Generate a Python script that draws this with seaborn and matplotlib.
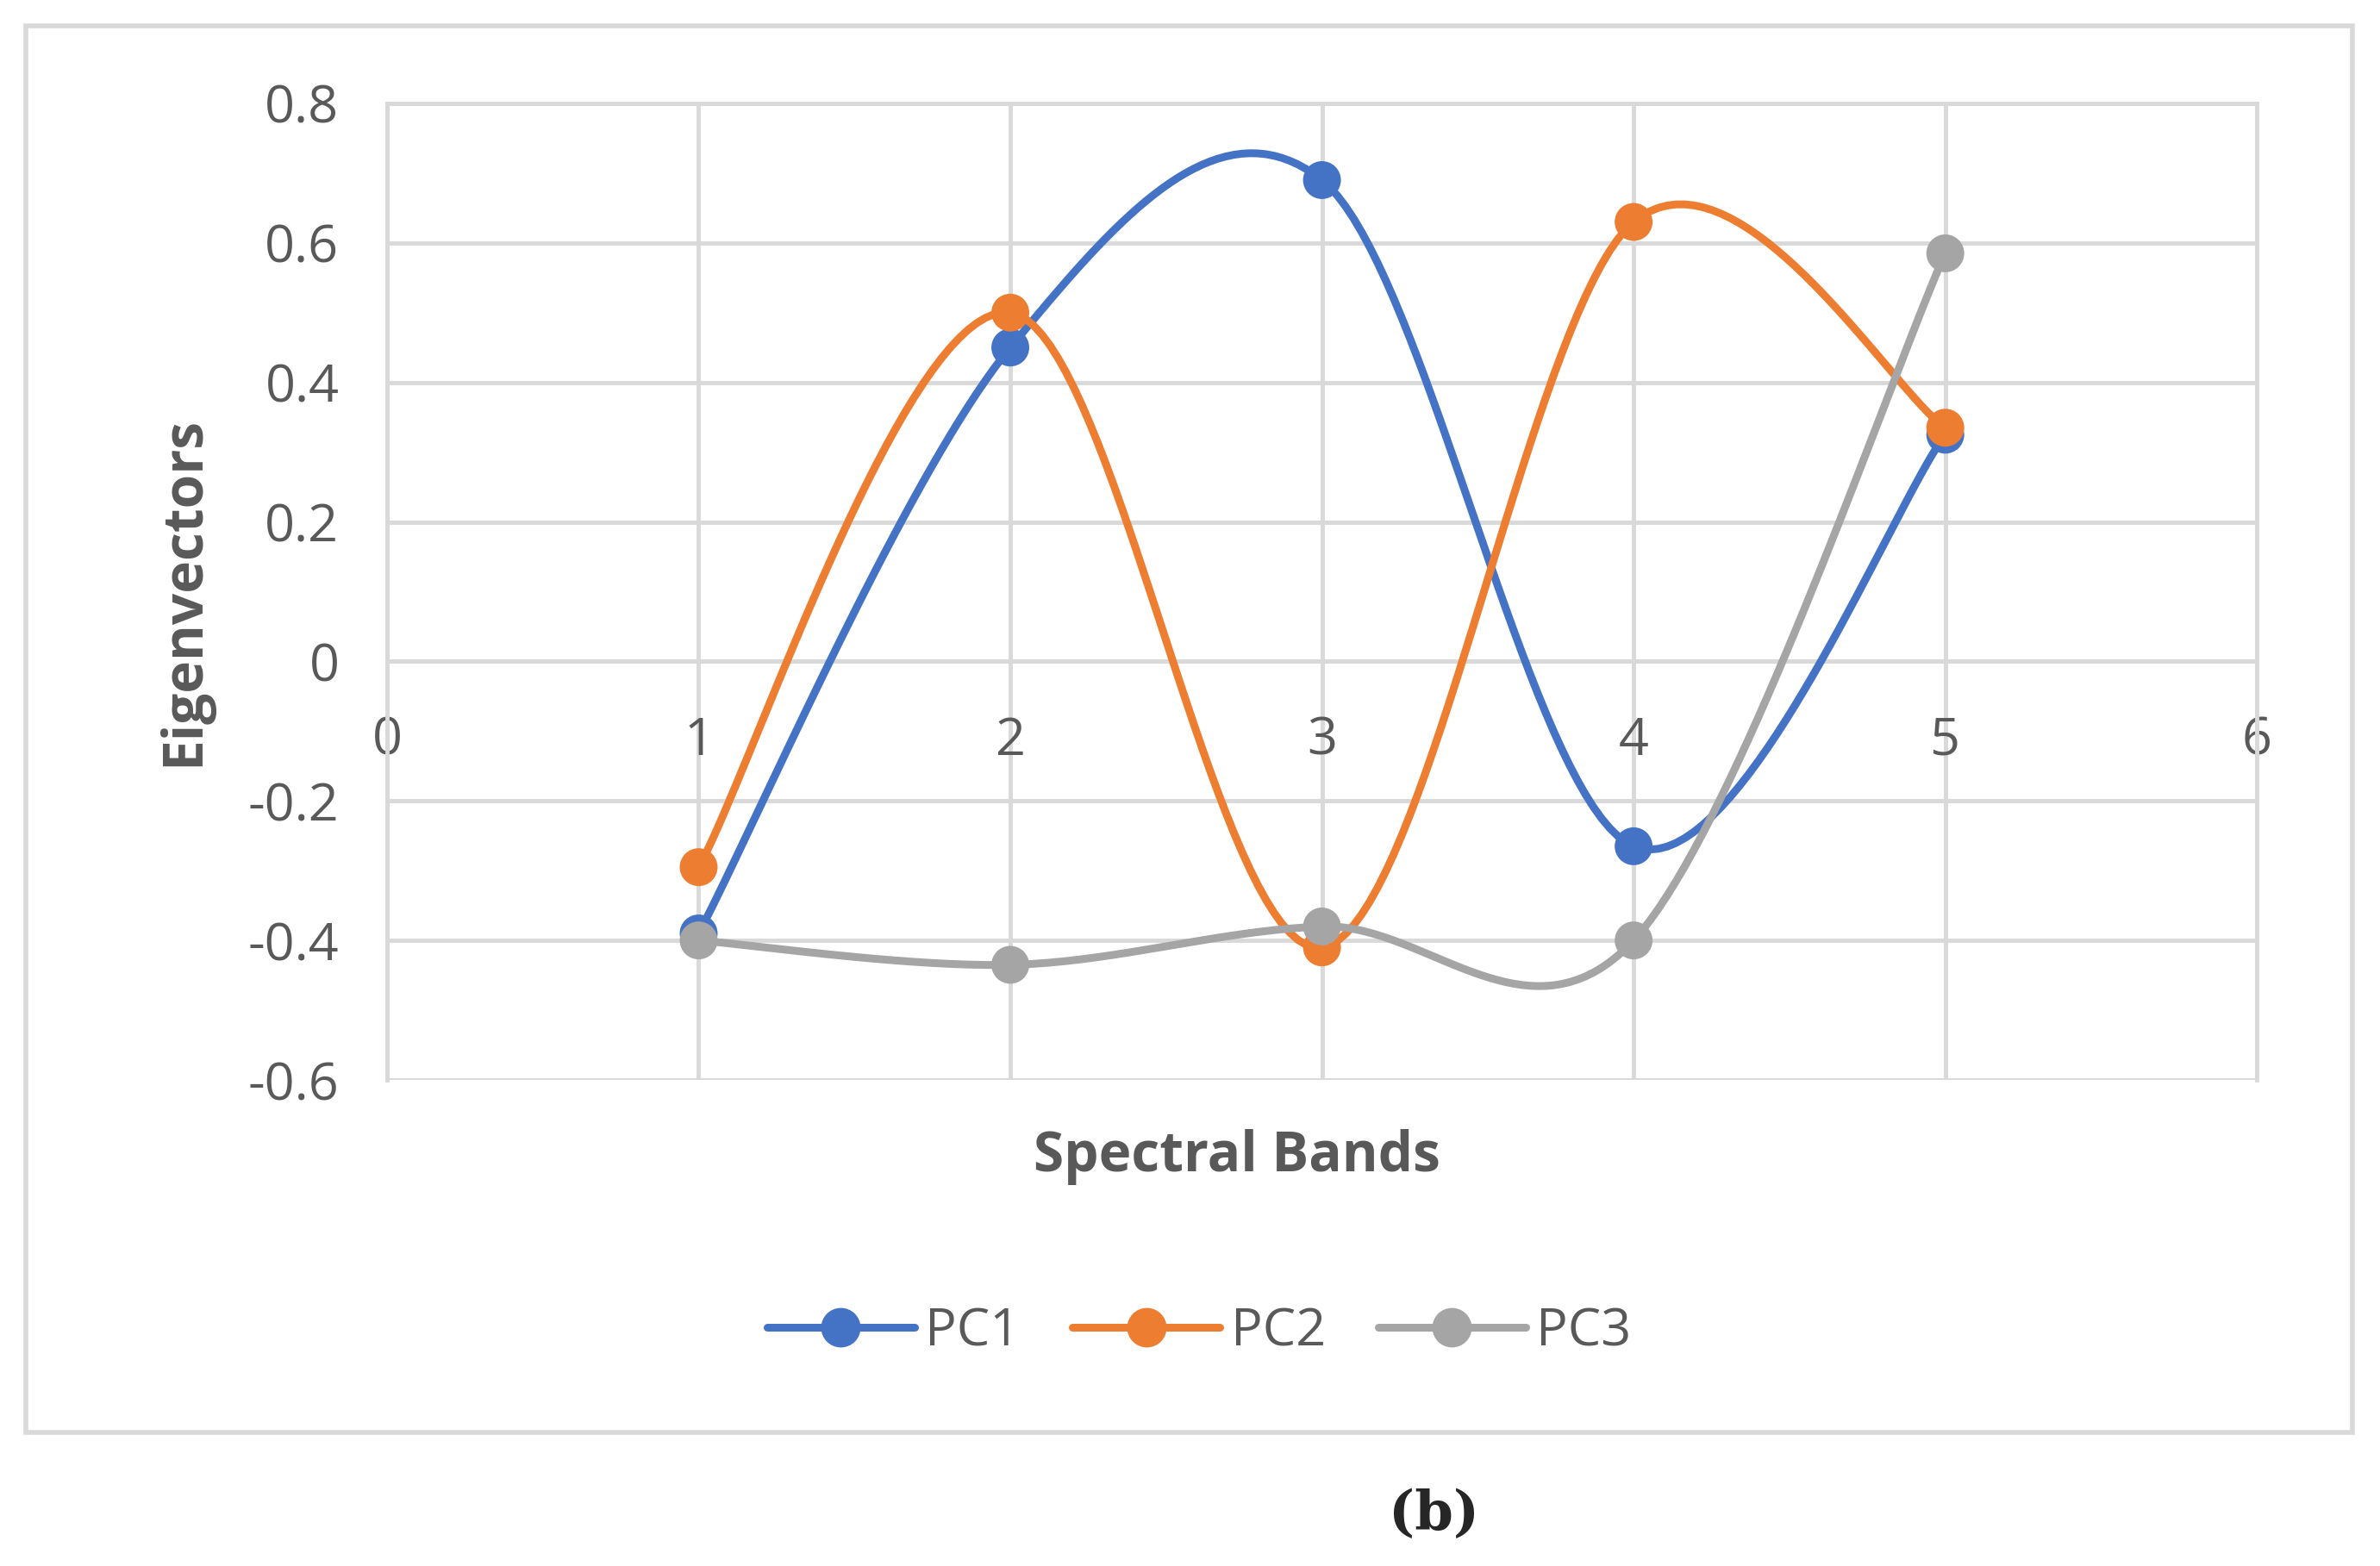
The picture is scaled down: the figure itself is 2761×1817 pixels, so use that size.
import numpy as np
import pandas as pd
import seaborn as sns
import matplotlib.pyplot as plt
from matplotlib.patches import Rectangle

bands = [1, 2, 3, 4, 5]
pc1 = [-0.39, 0.45, 0.69, -0.265, 0.325]
pc2 = [-0.295, 0.50, -0.41, 0.63, 0.335]
pc3 = [-0.40, -0.435, -0.38, -0.40, 0.585]
colors = {"PC1": "#4472C4", "PC2": "#ED7D31", "PC3": "#A5A5A5"}

sns.set_style("white")
plt.rcParams['font.family'] = ['Open Sans', 'DejaVu Sans']

data = pd.DataFrame({"Band": bands * 3,
                     "Value": pc1 + pc2 + pc3,
                     "Series": ["PC1"] * 5 + ["PC2"] * 5 + ["PC3"] * 5})


def smooth(x, y, n=40):
    # Excel-style smoothed line (Catmull-Rom through the points)
    x = np.asarray(x, float); y = np.asarray(y, float)
    px = np.concatenate([[x[0]], x, [x[-1]]]); py = np.concatenate([[y[0]], y, [y[-1]]])
    xs, ys = [], []
    t = np.linspace(0, 1, n)
    for i in range(1, len(px) - 2):
        p0, p1, p2, p3 = [np.array([px[j], py[j]]) for j in range(i - 1, i + 3)]
        c1 = p1 + (p2 - p0) / 6; c2 = p2 - (p3 - p1) / 6
        b = ((1 - t) ** 3)[:, None] * p1 + (3 * (1 - t) ** 2 * t)[:, None] * c1 \
            + (3 * (1 - t) * t ** 2)[:, None] * c2 + (t ** 3)[:, None] * p2
        xs.extend(b[:, 0]); ys.extend(b[:, 1])
    return xs, ys


fig = plt.figure(figsize=(27.61, 18.17), dpi=100)
fig.patches.append(Rectangle((17 / 1568, 1 - 943 / 1031), 1533 / 1568, 926 / 1031,
                             transform=fig.transFigure, fill=False, ec="#D9D9D9", lw=4))
ax = fig.add_axes([0.1626, 0.3104, 0.7857, 0.6236])

for name, grp in data.groupby("Series"):
    sx, sy = smooth(grp["Band"], grp["Value"])
    ax.plot(sx, sy, color=colors[name], lw=6.5, zorder=3)
sns.scatterplot(data=data, x="Band", y="Value", hue="Series", palette=colors,
                s=1000, edgecolor="none", legend=False, ax=ax, zorder=4)

ax.set_xlim(0, 6)
ax.set_ylim(-0.6, 0.8)
ax.set_xticks(range(7))
ax.set_yticks(np.arange(-0.6, 0.81, 0.2))
ax.set_yticklabels(["-0.6", "-0.4", "-0.2", "0", "0.2", "0.4", "0.6", "0.8"])
ax.grid(True, color="#D9D9D9", lw=3.5)
for s in ax.spines.values():
    s.set_color("#D9D9D9"); s.set_linewidth(3.5)
ax.spines['bottom'].set_position(('data', 0))
ax.tick_params(axis='both', length=0, labelsize=44, labelcolor="#595959")
ax.tick_params(axis='x', pad=45)
ax.tick_params(axis='y', pad=40)
ax.set_xlabel("")
ax.set_ylabel("Eigenvectors", fontsize=46, fontweight="bold", color="#595959", labelpad=30)
fig.text(815 / 1568, 1 - 762 / 1031, "Spectral Bands", fontsize=46, fontweight="bold",
         color="#595959", ha="center", va="center")

handles = [plt.Line2D([], [], color=colors[k], lw=6.5, marker="o", markersize=32) for k in colors]
fig.legend(handles, list(colors), loc="center", bbox_to_anchor=(790 / 1568, 1 - 877 / 1031),
           ncol=3, frameon=False, fontsize=44, labelcolor="#595959",
           handlelength=2.8, columnspacing=1.0, handletextpad=0.2)
fig.text(945 / 1568, 1 - 997 / 1031, "(b)", fontsize=46, fontweight="bold",
         family="DejaVu Serif", ha="center", va="center")

plt.savefig("out.png", dpi=100)
